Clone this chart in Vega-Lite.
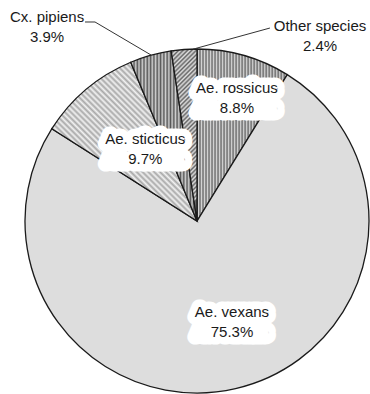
{
  "$schema": "https://vega.github.io/schema/vega-lite/v6.json",
  "width": 344,
  "height": 344,
  "autosize": {"type": "none"},
  "padding": {"left": 25, "top": 49, "right": 1, "bottom": 1},
  "background": "white",
  "config": {
    "view": {"stroke": null},
    "text": {"font": "Liberation Sans", "fontSize": 15, "color": "#1a1a1a", "baseline": "middle"}
  },
  "data": {
    "values": [
      {"species": "Ae. rossicus", "share": 0.088, "rank": 1},
      {"species": "Ae. vexans", "share": 0.753, "rank": 2},
      {"species": "Ae. sticticus", "share": 0.097, "rank": 3},
      {"species": "Cx. pipiens", "share": 0.039, "rank": 4},
      {"species": "Other species", "share": 0.024, "rank": 5}
    ]
  },
  "layer": [
    {
      "mark": {"type": "arc", "stroke": "#1a1a1a", "strokeWidth": 1.3},
      "encoding": {
        "theta": {"field": "share", "type": "quantitative", "stack": true},
        "order": {"field": "rank", "type": "quantitative"},
        "fill": {
          "condition": [
            {
              "test": "datum.species === 'Ae. rossicus'",
              "value": {
                "gradient": "linear", "x1": 0, "y1": 0, "x2": 1, "y2": 0,
                "stops": [
                  {"offset": 0, "color": "#666666"}, {"offset": 0.0167, "color": "#d4d4d4"},
                  {"offset": 0.0333, "color": "#666666"}, {"offset": 0.05, "color": "#d4d4d4"},
                  {"offset": 0.0667, "color": "#666666"}, {"offset": 0.0833, "color": "#d4d4d4"},
                  {"offset": 0.1, "color": "#666666"}, {"offset": 0.1167, "color": "#d4d4d4"},
                  {"offset": 0.1333, "color": "#666666"}, {"offset": 0.15, "color": "#d4d4d4"},
                  {"offset": 0.1667, "color": "#666666"}, {"offset": 0.1833, "color": "#d4d4d4"},
                  {"offset": 0.2, "color": "#666666"}, {"offset": 0.2167, "color": "#d4d4d4"},
                  {"offset": 0.2333, "color": "#666666"}, {"offset": 0.25, "color": "#d4d4d4"},
                  {"offset": 0.2667, "color": "#666666"}, {"offset": 0.2833, "color": "#d4d4d4"},
                  {"offset": 0.3, "color": "#666666"}, {"offset": 0.3167, "color": "#d4d4d4"},
                  {"offset": 0.3333, "color": "#666666"}, {"offset": 0.35, "color": "#d4d4d4"},
                  {"offset": 0.3667, "color": "#666666"}, {"offset": 0.3833, "color": "#d4d4d4"},
                  {"offset": 0.4, "color": "#666666"}, {"offset": 0.4167, "color": "#d4d4d4"},
                  {"offset": 0.4333, "color": "#666666"}, {"offset": 0.45, "color": "#d4d4d4"},
                  {"offset": 0.4667, "color": "#666666"}, {"offset": 0.4833, "color": "#d4d4d4"},
                  {"offset": 0.5, "color": "#666666"}, {"offset": 0.5167, "color": "#d4d4d4"},
                  {"offset": 0.5333, "color": "#666666"}, {"offset": 0.55, "color": "#d4d4d4"},
                  {"offset": 0.5667, "color": "#666666"}, {"offset": 0.5833, "color": "#d4d4d4"},
                  {"offset": 0.6, "color": "#666666"}, {"offset": 0.6167, "color": "#d4d4d4"},
                  {"offset": 0.6333, "color": "#666666"}, {"offset": 0.65, "color": "#d4d4d4"},
                  {"offset": 0.6667, "color": "#666666"}, {"offset": 0.6833, "color": "#d4d4d4"},
                  {"offset": 0.7, "color": "#666666"}, {"offset": 0.7167, "color": "#d4d4d4"},
                  {"offset": 0.7333, "color": "#666666"}, {"offset": 0.75, "color": "#d4d4d4"},
                  {"offset": 0.7667, "color": "#666666"}, {"offset": 0.7833, "color": "#d4d4d4"},
                  {"offset": 0.8, "color": "#666666"}, {"offset": 0.8167, "color": "#d4d4d4"},
                  {"offset": 0.8333, "color": "#666666"}, {"offset": 0.85, "color": "#d4d4d4"},
                  {"offset": 0.8667, "color": "#666666"}, {"offset": 0.8833, "color": "#d4d4d4"},
                  {"offset": 0.9, "color": "#666666"}, {"offset": 0.9167, "color": "#d4d4d4"},
                  {"offset": 0.9333, "color": "#666666"}, {"offset": 0.95, "color": "#d4d4d4"},
                  {"offset": 0.9667, "color": "#666666"}, {"offset": 0.9833, "color": "#d4d4d4"},
                  {"offset": 1, "color": "#666666"}
                ]
              }
            },
            {
              "test": "datum.species === 'Ae. sticticus'",
              "value": {
                "gradient": "linear", "x1": 0, "y1": 1, "x2": 0.91, "y2": 0,
                "stops": [
                  {"offset": 0, "color": "#a8a8a8"}, {"offset": 0.01, "color": "#f2f2f2"},
                  {"offset": 0.02, "color": "#a8a8a8"}, {"offset": 0.03, "color": "#f2f2f2"},
                  {"offset": 0.04, "color": "#a8a8a8"}, {"offset": 0.05, "color": "#f2f2f2"},
                  {"offset": 0.06, "color": "#a8a8a8"}, {"offset": 0.07, "color": "#f2f2f2"},
                  {"offset": 0.08, "color": "#a8a8a8"}, {"offset": 0.09, "color": "#f2f2f2"},
                  {"offset": 0.1, "color": "#a8a8a8"}, {"offset": 0.11, "color": "#f2f2f2"},
                  {"offset": 0.12, "color": "#a8a8a8"}, {"offset": 0.13, "color": "#f2f2f2"},
                  {"offset": 0.14, "color": "#a8a8a8"}, {"offset": 0.15, "color": "#f2f2f2"},
                  {"offset": 0.16, "color": "#a8a8a8"}, {"offset": 0.17, "color": "#f2f2f2"},
                  {"offset": 0.18, "color": "#a8a8a8"}, {"offset": 0.19, "color": "#f2f2f2"},
                  {"offset": 0.2, "color": "#a8a8a8"}, {"offset": 0.21, "color": "#f2f2f2"},
                  {"offset": 0.22, "color": "#a8a8a8"}, {"offset": 0.23, "color": "#f2f2f2"},
                  {"offset": 0.24, "color": "#a8a8a8"}, {"offset": 0.25, "color": "#f2f2f2"},
                  {"offset": 0.26, "color": "#a8a8a8"}, {"offset": 0.27, "color": "#f2f2f2"},
                  {"offset": 0.28, "color": "#a8a8a8"}, {"offset": 0.29, "color": "#f2f2f2"},
                  {"offset": 0.3, "color": "#a8a8a8"}, {"offset": 0.31, "color": "#f2f2f2"},
                  {"offset": 0.32, "color": "#a8a8a8"}, {"offset": 0.33, "color": "#f2f2f2"},
                  {"offset": 0.34, "color": "#a8a8a8"}, {"offset": 0.35, "color": "#f2f2f2"},
                  {"offset": 0.36, "color": "#a8a8a8"}, {"offset": 0.37, "color": "#f2f2f2"},
                  {"offset": 0.38, "color": "#a8a8a8"}, {"offset": 0.39, "color": "#f2f2f2"},
                  {"offset": 0.4, "color": "#a8a8a8"}, {"offset": 0.41, "color": "#f2f2f2"},
                  {"offset": 0.42, "color": "#a8a8a8"}, {"offset": 0.43, "color": "#f2f2f2"},
                  {"offset": 0.44, "color": "#a8a8a8"}, {"offset": 0.45, "color": "#f2f2f2"},
                  {"offset": 0.46, "color": "#a8a8a8"}, {"offset": 0.47, "color": "#f2f2f2"},
                  {"offset": 0.48, "color": "#a8a8a8"}, {"offset": 0.49, "color": "#f2f2f2"},
                  {"offset": 0.5, "color": "#a8a8a8"}, {"offset": 0.51, "color": "#f2f2f2"},
                  {"offset": 0.52, "color": "#a8a8a8"}, {"offset": 0.53, "color": "#f2f2f2"},
                  {"offset": 0.54, "color": "#a8a8a8"}, {"offset": 0.55, "color": "#f2f2f2"},
                  {"offset": 0.56, "color": "#a8a8a8"}, {"offset": 0.57, "color": "#f2f2f2"},
                  {"offset": 0.58, "color": "#a8a8a8"}, {"offset": 0.59, "color": "#f2f2f2"},
                  {"offset": 0.6, "color": "#a8a8a8"}, {"offset": 0.61, "color": "#f2f2f2"},
                  {"offset": 0.62, "color": "#a8a8a8"}, {"offset": 0.63, "color": "#f2f2f2"},
                  {"offset": 0.64, "color": "#a8a8a8"}, {"offset": 0.65, "color": "#f2f2f2"},
                  {"offset": 0.66, "color": "#a8a8a8"}, {"offset": 0.67, "color": "#f2f2f2"},
                  {"offset": 0.68, "color": "#a8a8a8"}, {"offset": 0.69, "color": "#f2f2f2"},
                  {"offset": 0.7, "color": "#a8a8a8"}, {"offset": 0.71, "color": "#f2f2f2"},
                  {"offset": 0.72, "color": "#a8a8a8"}, {"offset": 0.73, "color": "#f2f2f2"},
                  {"offset": 0.74, "color": "#a8a8a8"}, {"offset": 0.75, "color": "#f2f2f2"},
                  {"offset": 0.76, "color": "#a8a8a8"}, {"offset": 0.77, "color": "#f2f2f2"},
                  {"offset": 0.78, "color": "#a8a8a8"}, {"offset": 0.79, "color": "#f2f2f2"},
                  {"offset": 0.8, "color": "#a8a8a8"}, {"offset": 0.81, "color": "#f2f2f2"},
                  {"offset": 0.82, "color": "#a8a8a8"}, {"offset": 0.83, "color": "#f2f2f2"},
                  {"offset": 0.84, "color": "#a8a8a8"}, {"offset": 0.85, "color": "#f2f2f2"},
                  {"offset": 0.86, "color": "#a8a8a8"}, {"offset": 0.87, "color": "#f2f2f2"},
                  {"offset": 0.88, "color": "#a8a8a8"}, {"offset": 0.89, "color": "#f2f2f2"},
                  {"offset": 0.9, "color": "#a8a8a8"}, {"offset": 0.91, "color": "#f2f2f2"},
                  {"offset": 0.92, "color": "#a8a8a8"}, {"offset": 0.93, "color": "#f2f2f2"},
                  {"offset": 0.94, "color": "#a8a8a8"}, {"offset": 0.95, "color": "#f2f2f2"},
                  {"offset": 0.96, "color": "#a8a8a8"}, {"offset": 0.97, "color": "#f2f2f2"},
                  {"offset": 0.98, "color": "#a8a8a8"}, {"offset": 0.99, "color": "#f2f2f2"},
                  {"offset": 1, "color": "#a8a8a8"}
                ]
              }
            },
            {
              "test": "datum.species === 'Cx. pipiens'",
              "value": {
                "gradient": "linear", "x1": 0, "y1": 0, "x2": 1, "y2": 0,
                "stops": [
                  {"offset": 0, "color": "#585858"}, {"offset": 0.025, "color": "#d0d0d0"},
                  {"offset": 0.05, "color": "#585858"}, {"offset": 0.075, "color": "#d0d0d0"},
                  {"offset": 0.1, "color": "#585858"}, {"offset": 0.125, "color": "#d0d0d0"},
                  {"offset": 0.15, "color": "#585858"}, {"offset": 0.175, "color": "#d0d0d0"},
                  {"offset": 0.2, "color": "#585858"}, {"offset": 0.225, "color": "#d0d0d0"},
                  {"offset": 0.25, "color": "#585858"}, {"offset": 0.275, "color": "#d0d0d0"},
                  {"offset": 0.3, "color": "#585858"}, {"offset": 0.325, "color": "#d0d0d0"},
                  {"offset": 0.35, "color": "#585858"}, {"offset": 0.375, "color": "#d0d0d0"},
                  {"offset": 0.4, "color": "#585858"}, {"offset": 0.425, "color": "#d0d0d0"},
                  {"offset": 0.45, "color": "#585858"}, {"offset": 0.475, "color": "#d0d0d0"},
                  {"offset": 0.5, "color": "#585858"}, {"offset": 0.525, "color": "#d0d0d0"},
                  {"offset": 0.55, "color": "#585858"}, {"offset": 0.575, "color": "#d0d0d0"},
                  {"offset": 0.6, "color": "#585858"}, {"offset": 0.625, "color": "#d0d0d0"},
                  {"offset": 0.65, "color": "#585858"}, {"offset": 0.675, "color": "#d0d0d0"},
                  {"offset": 0.7, "color": "#585858"}, {"offset": 0.725, "color": "#d0d0d0"},
                  {"offset": 0.75, "color": "#585858"}, {"offset": 0.775, "color": "#d0d0d0"},
                  {"offset": 0.8, "color": "#585858"}, {"offset": 0.825, "color": "#d0d0d0"},
                  {"offset": 0.85, "color": "#585858"}, {"offset": 0.875, "color": "#d0d0d0"},
                  {"offset": 0.9, "color": "#585858"}, {"offset": 0.925, "color": "#d0d0d0"},
                  {"offset": 0.95, "color": "#585858"}, {"offset": 0.975, "color": "#d0d0d0"},
                  {"offset": 1, "color": "#585858"}
                ]
              }
            },
            {
              "test": "datum.species === 'Other species'",
              "value": {
                "gradient": "linear", "x1": 0, "y1": 0, "x2": 0.15, "y2": 1,
                "stops": [
                  {"offset": 0, "color": "#646464"}, {"offset": 0.0125, "color": "#e0e0e0"},
                  {"offset": 0.025, "color": "#646464"}, {"offset": 0.0375, "color": "#e0e0e0"},
                  {"offset": 0.05, "color": "#646464"}, {"offset": 0.0625, "color": "#e0e0e0"},
                  {"offset": 0.075, "color": "#646464"}, {"offset": 0.0875, "color": "#e0e0e0"},
                  {"offset": 0.1, "color": "#646464"}, {"offset": 0.1125, "color": "#e0e0e0"},
                  {"offset": 0.125, "color": "#646464"}, {"offset": 0.1375, "color": "#e0e0e0"},
                  {"offset": 0.15, "color": "#646464"}, {"offset": 0.1625, "color": "#e0e0e0"},
                  {"offset": 0.175, "color": "#646464"}, {"offset": 0.1875, "color": "#e0e0e0"},
                  {"offset": 0.2, "color": "#646464"}, {"offset": 0.2125, "color": "#e0e0e0"},
                  {"offset": 0.225, "color": "#646464"}, {"offset": 0.2375, "color": "#e0e0e0"},
                  {"offset": 0.25, "color": "#646464"}, {"offset": 0.2625, "color": "#e0e0e0"},
                  {"offset": 0.275, "color": "#646464"}, {"offset": 0.2875, "color": "#e0e0e0"},
                  {"offset": 0.3, "color": "#646464"}, {"offset": 0.3125, "color": "#e0e0e0"},
                  {"offset": 0.325, "color": "#646464"}, {"offset": 0.3375, "color": "#e0e0e0"},
                  {"offset": 0.35, "color": "#646464"}, {"offset": 0.3625, "color": "#e0e0e0"},
                  {"offset": 0.375, "color": "#646464"}, {"offset": 0.3875, "color": "#e0e0e0"},
                  {"offset": 0.4, "color": "#646464"}, {"offset": 0.4125, "color": "#e0e0e0"},
                  {"offset": 0.425, "color": "#646464"}, {"offset": 0.4375, "color": "#e0e0e0"},
                  {"offset": 0.45, "color": "#646464"}, {"offset": 0.4625, "color": "#e0e0e0"},
                  {"offset": 0.475, "color": "#646464"}, {"offset": 0.4875, "color": "#e0e0e0"},
                  {"offset": 0.5, "color": "#646464"}, {"offset": 0.5125, "color": "#e0e0e0"},
                  {"offset": 0.525, "color": "#646464"}, {"offset": 0.5375, "color": "#e0e0e0"},
                  {"offset": 0.55, "color": "#646464"}, {"offset": 0.5625, "color": "#e0e0e0"},
                  {"offset": 0.575, "color": "#646464"}, {"offset": 0.5875, "color": "#e0e0e0"},
                  {"offset": 0.6, "color": "#646464"}, {"offset": 0.6125, "color": "#e0e0e0"},
                  {"offset": 0.625, "color": "#646464"}, {"offset": 0.6375, "color": "#e0e0e0"},
                  {"offset": 0.65, "color": "#646464"}, {"offset": 0.6625, "color": "#e0e0e0"},
                  {"offset": 0.675, "color": "#646464"}, {"offset": 0.6875, "color": "#e0e0e0"},
                  {"offset": 0.7, "color": "#646464"}, {"offset": 0.7125, "color": "#e0e0e0"},
                  {"offset": 0.725, "color": "#646464"}, {"offset": 0.7375, "color": "#e0e0e0"},
                  {"offset": 0.75, "color": "#646464"}, {"offset": 0.7625, "color": "#e0e0e0"},
                  {"offset": 0.775, "color": "#646464"}, {"offset": 0.7875, "color": "#e0e0e0"},
                  {"offset": 0.8, "color": "#646464"}, {"offset": 0.8125, "color": "#e0e0e0"},
                  {"offset": 0.825, "color": "#646464"}, {"offset": 0.8375, "color": "#e0e0e0"},
                  {"offset": 0.85, "color": "#646464"}, {"offset": 0.8625, "color": "#e0e0e0"},
                  {"offset": 0.875, "color": "#646464"}, {"offset": 0.8875, "color": "#e0e0e0"},
                  {"offset": 0.9, "color": "#646464"}, {"offset": 0.9125, "color": "#e0e0e0"},
                  {"offset": 0.925, "color": "#646464"}, {"offset": 0.9375, "color": "#e0e0e0"},
                  {"offset": 0.95, "color": "#646464"}, {"offset": 0.9625, "color": "#e0e0e0"},
                  {"offset": 0.975, "color": "#646464"}, {"offset": 0.9875, "color": "#e0e0e0"},
                  {"offset": 1, "color": "#646464"}
                ]
              }
            }
          ],
          "value": "#dddddd"
        }
      }
    },
    {
      "transform": [{"filter": "datum.species === 'Cx. pipiens'"}],
      "mark": {
        "type": "point",
        "shape": "M -0.651 -1.157 L -0.593 -1.157 L -0.267 -0.965",
        "size": 118336,
        "filled": false,
        "stroke": "#333333",
        "strokeWidth": 1,
        "opacity": 1
      },
      "encoding": {}
    },
    {
      "transform": [{"filter": "datum.species === 'Other species'"}],
      "mark": {
        "type": "point",
        "shape": "M 0.424 -1.122 L -0.023 -0.999",
        "size": 118336,
        "filled": false,
        "stroke": "#333333",
        "strokeWidth": 1,
        "opacity": 1
      },
      "encoding": {}
    },
    {
      "encoding": {
        "theta": {"field": "share", "type": "quantitative", "stack": true},
        "order": {"field": "rank", "type": "quantitative"}
      },
      "layer": [
        {
          "mark": {"type": "text", "radius": 128, "dx": 5, "dy": -10, "fill": "white", "stroke": "white", "strokeWidth": 15, "strokeJoin": "round"},
          "encoding": {"text": {"condition": {"test": "datum.species === 'Ae. rossicus'", "field": "species"}, "value": ""}}
        },
        {
          "mark": {"type": "text", "radius": 128, "dx": 5, "dy": 10, "fill": "white", "stroke": "white", "strokeWidth": 15, "strokeJoin": "round"},
          "encoding": {"text": {"condition": {"test": "datum.species === 'Ae. rossicus'", "field": "species"}, "value": ""}}
        },
        {
          "mark": {"type": "text", "radius": 107, "dx": 11, "dy": -13, "fill": "white", "stroke": "white", "strokeWidth": 15, "strokeJoin": "round"},
          "encoding": {"text": {"condition": {"test": "datum.species === 'Ae. vexans'", "field": "species"}, "value": ""}}
        },
        {
          "mark": {"type": "text", "radius": 107, "dx": 11, "dy": 7, "fill": "white", "stroke": "white", "strokeWidth": 15, "strokeJoin": "round"},
          "encoding": {"text": {"condition": {"test": "datum.species === 'Ae. vexans'", "field": "species"}, "value": ""}}
        },
        {
          "mark": {"type": "text", "radius": 85, "dx": 3, "dy": -17, "fill": "white", "stroke": "white", "strokeWidth": 15, "strokeJoin": "round"},
          "encoding": {"text": {"condition": {"test": "datum.species === 'Ae. sticticus'", "field": "species"}, "value": ""}}
        },
        {
          "mark": {"type": "text", "radius": 85, "dx": 3, "dy": 3, "fill": "white", "stroke": "white", "strokeWidth": 15, "strokeJoin": "round"},
          "encoding": {"text": {"condition": {"test": "datum.species === 'Ae. sticticus'", "field": "species"}, "value": ""}}
        },
        {
          "mark": {"type": "text", "radius": 128, "dx": 5, "dy": -10},
          "encoding": {"text": {"condition": {"test": "datum.species === 'Ae. rossicus'", "field": "species"}, "value": ""}}
        },
        {
          "mark": {"type": "text", "radius": 128, "dx": 5, "dy": 10},
          "encoding": {"text": {"condition": {"test": "datum.species === 'Ae. rossicus'", "field": "share", "type": "quantitative", "format": ".1%"}, "value": ""}}
        },
        {
          "mark": {"type": "text", "radius": 107, "dx": 11, "dy": -13},
          "encoding": {"text": {"condition": {"test": "datum.species === 'Ae. vexans'", "field": "species"}, "value": ""}}
        },
        {
          "mark": {"type": "text", "radius": 107, "dx": 11, "dy": 7},
          "encoding": {"text": {"condition": {"test": "datum.species === 'Ae. vexans'", "field": "share", "type": "quantitative", "format": ".1%"}, "value": ""}}
        },
        {
          "mark": {"type": "text", "radius": 85, "dx": 3, "dy": -17},
          "encoding": {"text": {"condition": {"test": "datum.species === 'Ae. sticticus'", "field": "species"}, "value": ""}}
        },
        {
          "mark": {"type": "text", "radius": 85, "dx": 3, "dy": 3},
          "encoding": {"text": {"condition": {"test": "datum.species === 'Ae. sticticus'", "field": "share", "type": "quantitative", "format": ".1%"}, "value": ""}}
        },
        {
          "mark": {"type": "text", "radius": 200, "dx": -96, "dy": -11},
          "encoding": {"text": {"condition": {"test": "datum.species === 'Cx. pipiens'", "field": "species"}, "value": ""}}
        },
        {
          "mark": {"type": "text", "radius": 200, "dx": -96, "dy": 9},
          "encoding": {"text": {"condition": {"test": "datum.species === 'Cx. pipiens'", "field": "share", "type": "quantitative", "format": ".1%"}, "value": ""}}
        },
        {
          "mark": {"type": "text", "radius": 186, "dx": 137, "dy": -10},
          "encoding": {"text": {"condition": {"test": "datum.species === 'Other species'", "field": "species"}, "value": ""}}
        },
        {
          "mark": {"type": "text", "radius": 186, "dx": 137, "dy": 10},
          "encoding": {"text": {"condition": {"test": "datum.species === 'Other species'", "field": "share", "type": "quantitative", "format": ".1%"}, "value": ""}}
        }
      ]
    }
  ]
}
